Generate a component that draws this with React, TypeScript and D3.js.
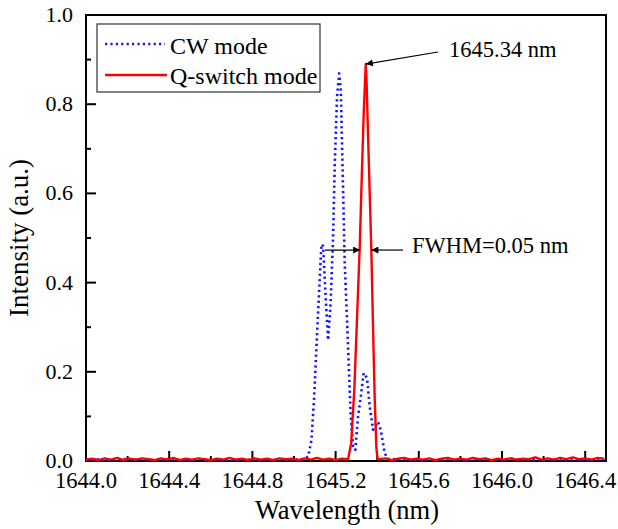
import React from "react";
import * as d3 from "d3";

const W = 618;
const H = 529;
const M = { left: 86, right: 606, top: 15, bottom: 461 };

const xDomain: [number, number] = [1644.0, 1646.5];
const yDomain: [number, number] = [0, 1];
const xMajorTicks = [1644.0, 1644.4, 1644.8, 1645.2, 1645.6, 1646.0, 1646.4];
const xMinorTicks = [1644.2, 1644.6, 1645.0, 1645.4, 1645.8, 1646.2];
const yMajorTicks = [0.0, 0.2, 0.4, 0.6, 0.8, 1.0];
const yMinorTicks = [0.1, 0.3, 0.5, 0.7, 0.9];

// CW mode (blue dotted)
const cwWavelength = [
  1644.0, 1644.05, 1644.1, 1644.15, 1644.2, 1644.25, 1644.3, 1644.35, 1644.4, 1644.45, 1644.5, 1644.55, 1644.6,
  1644.65, 1644.7, 1644.75, 1644.8, 1644.85, 1644.9, 1644.95, 1645.0, 1645.05,
  1645.068, 1645.084, 1645.097, 1645.108, 1645.121, 1645.132, 1645.14, 1645.152, 1645.164, 1645.176, 1645.188,
  1645.196, 1645.207, 1645.217, 1645.225, 1645.233, 1645.244, 1645.26, 1645.272, 1645.284, 1645.295, 1645.308,
  1645.321, 1645.335, 1645.351, 1645.364, 1645.38, 1645.404, 1645.417, 1645.436, 1645.45,
  1645.5, 1645.55, 1645.6, 1645.65, 1645.7, 1645.75, 1645.8, 1645.85, 1645.9, 1645.95, 1646.0, 1646.05, 1646.1,
  1646.15, 1646.2, 1646.25, 1646.3, 1646.35, 1646.4, 1646.45, 1646.5,
];
const cwIntensity = [
  0.002, 0.004, 0.001, 0.003, 0.005, 0.002, 0.003, 0.001, 0.004, 0.002, 0.002, 0.004, 0.001,
  0.003, 0.002, 0.004, 0.002, 0.001, 0.003, 0.002, 0.003, 0.004,
  0.01, 0.047, 0.144, 0.256, 0.383, 0.486, 0.482, 0.368, 0.271, 0.354, 0.503,
  0.668, 0.817, 0.869, 0.832, 0.668, 0.443, 0.256, 0.107, 0.032, 0.025, 0.1,
  0.144, 0.197, 0.186, 0.122, 0.07, 0.088, 0.07, 0.018, 0.005,
  0.003, 0.004, 0.002, 0.003, 0.001, 0.004, 0.002, 0.002, 0.004, 0.001, 0.003, 0.005, 0.002,
  0.003, 0.002, 0.004, 0.002, 0.004, 0.001, 0.003, 0.002,
];

// Q-switch mode (red solid)
const qsWavelength = [
  1644.0, 1644.03, 1644.06, 1644.09, 1644.12, 1644.15, 1644.18, 1644.21, 1644.24, 1644.27, 1644.3, 1644.33,
  1644.36, 1644.39, 1644.42, 1644.45, 1644.48, 1644.51, 1644.54, 1644.57, 1644.6, 1644.63, 1644.66, 1644.69,
  1644.72, 1644.75, 1644.78, 1644.81, 1644.84, 1644.87, 1644.9, 1644.93, 1644.96, 1644.99, 1645.02, 1645.05,
  1645.08, 1645.11, 1645.14, 1645.17, 1645.2, 1645.23,
  1645.26, 1645.275, 1645.29, 1645.303, 1645.316, 1645.326, 1645.336, 1645.345, 1645.349, 1645.356, 1645.364,
  1645.372, 1645.38, 1645.388, 1645.396, 1645.402,
  1645.41, 1645.44, 1645.47, 1645.5, 1645.53, 1645.56, 1645.59, 1645.62, 1645.65, 1645.68, 1645.71, 1645.74,
  1645.77, 1645.8, 1645.83, 1645.86, 1645.89, 1645.92, 1645.95, 1645.98, 1646.01, 1646.04, 1646.07, 1646.1,
  1646.13, 1646.16, 1646.19, 1646.22, 1646.25, 1646.28, 1646.31, 1646.34, 1646.37, 1646.4, 1646.43, 1646.46,
  1646.49,
];
const qsIntensity = [
  0.003, 0.005, 0.002, 0.006, 0.003, 0.007, 0.002, 0.005, 0.003, 0.006, 0.004, 0.002,
  0.006, 0.003, 0.007, 0.002, 0.005, 0.003, 0.006, 0.004, 0.002, 0.005, 0.003, 0.007,
  0.003, 0.005, 0.002, 0.006, 0.003, 0.005, 0.002, 0.006, 0.004, 0.005, 0.002, 0.006,
  0.003, 0.007, 0.003, 0.005, 0.002, 0.005,
  0.004, 0.04, 0.16, 0.32, 0.48, 0.64, 0.79, 0.89, 0.85, 0.73, 0.6,
  0.47, 0.3, 0.14, 0.03, 0.004,
  0.004, 0.006, 0.002, 0.005, 0.007, 0.003, 0.005, 0.003, 0.006, 0.002, 0.005, 0.007,
  0.003, 0.005, 0.003, 0.007, 0.004, 0.006, 0.002, 0.005, 0.003, 0.006, 0.003, 0.005,
  0.004, 0.008, 0.003, 0.006, 0.003, 0.007, 0.004, 0.008, 0.004, 0.006, 0.003, 0.007,
  0.005,
];

const peakWavelength = 1645.345;
const peakIntensity = 0.89;
const fwhmLeft = 1645.318;
const fwhmRight = 1645.372;
const fwhmLevel = 0.473;

const serif = "Liberation Serif";

export default function App() {
  const x = d3.scaleLinear().domain(xDomain).range([M.left, M.right]);
  const y = d3.scaleLinear().domain(yDomain).range([M.bottom, M.top]);

  const cwData = cwWavelength.map((w, i) => [w, cwIntensity[i]] as [number, number]);
  const qsData = qsWavelength.map((w, i) => [w, qsIntensity[i]] as [number, number]);

  const line = d3
    .line<[number, number]>()
    .x((d) => x(d[0]))
    .y((d) => y(d[1]));

  const px = x(peakWavelength);
  const py = y(peakIntensity);
  const fy = y(fwhmLevel);

  return (
    <svg width={W} height={H} style={{ display: "block", position: "absolute", left: 0, top: 0, background: "#fff" }}>
      <defs>
        <clipPath id="plotClip">
          <rect x={M.left} y={M.top - 2} width={M.right - M.left} height={M.bottom - M.top + 3} />
        </clipPath>
        <marker id="arrowHead" viewBox="0 0 10 10" refX="10" refY="5" markerWidth="11" markerHeight="7" markerUnits="userSpaceOnUse" orient="auto">
          <path d="M0,0 L10,5 L0,10 Z" fill="#000" />
        </marker>
      </defs>
      <rect x={0} y={0} width={W} height={H} fill="#fff" />

      {/* frame */}
      <rect
        x={M.left}
        y={M.top}
        width={M.right - M.left}
        height={M.bottom - M.top}
        fill="none"
        stroke="#000"
        strokeWidth={2}
      />

      {/* x ticks */}
      {xMajorTicks.map((t) => (
        <g key={"xM" + t}>
          <line x1={x(t)} x2={x(t)} y1={M.bottom} y2={M.bottom - 10} stroke="#000" strokeWidth={2} />
          <text x={x(t)} y={488} textAnchor="middle" fontFamily={serif} fontSize={22.5} fill="#000">
            {t.toFixed(1)}
          </text>
        </g>
      ))}
      {xMinorTicks.map((t) => (
        <line key={"xm" + t} x1={x(t)} x2={x(t)} y1={M.bottom} y2={M.bottom - 5} stroke="#000" strokeWidth={2} />
      ))}

      {/* y ticks */}
      {yMajorTicks.map((t) => (
        <g key={"yM" + t}>
          <line x1={M.left} x2={M.left + 10} y1={y(t)} y2={y(t)} stroke="#000" strokeWidth={2} />
          <text x={73} y={y(t) + 7} textAnchor="end" fontFamily={serif} fontSize={22} fill="#000">
            {t.toFixed(1)}
          </text>
        </g>
      ))}
      {yMinorTicks.map((t) => (
        <line key={"ym" + t} x1={M.left} x2={M.left + 5} y1={y(t)} y2={y(t)} stroke="#000" strokeWidth={2} />
      ))}

      {/* axis titles */}
      <text x={347} y={519} textAnchor="middle" fontFamily={serif} fontSize={26.5} fill="#000">
        Wavelength (nm)
      </text>
      <text transform="translate(28, 238) rotate(-90)" textAnchor="middle" fontFamily={serif} fontSize={27} fill="#000">
        Intensity (a.u.)
      </text>

      {/* data */}
      <g clipPath="url(#plotClip)">
        <path
          d={line(cwData) || ""}
          fill="none"
          stroke="#1515ff"
          strokeWidth={2.6}
          strokeDasharray="2.2 3.2"
          strokeLinejoin="round"
        />
        <path d={line(qsData) || ""} fill="none" stroke="#ff0000" strokeWidth={2.4} strokeLinejoin="round" />
      </g>

      {/* legend */}
      <rect x={97} y={24} width={223} height={68} fill="#fff" stroke="#333" strokeWidth={1.2} />
      <line x1={105} x2={165} y1={44} y2={44} stroke="#1515ff" strokeWidth={2.6} strokeDasharray="2.2 3.2" />
      <text x={170} y={54} fontFamily={serif} fontSize={24} fill="#000">
        CW mode
      </text>
      <line x1={105} x2={167} y1={75} y2={75} stroke="#ff0000" strokeWidth={2.6} />
      <text x={170} y={84} fontFamily={serif} fontSize={24} fill="#000">
        Q-switch mode
      </text>

      {/* peak annotation */}
      <line x1={438} y1={52} x2={px} y2={py} stroke="#000" strokeWidth={1.2} markerEnd="url(#arrowHead)" />
      <text x={449} y={57} fontFamily={serif} fontSize={22.5} fill="#000">
        1645.34 nm
      </text>

      {/* FWHM annotation */}
      <line x1={325} y1={fy} x2={x(fwhmLeft)} y2={fy} stroke="#000" strokeWidth={1.2} markerEnd="url(#arrowHead)" />
      <line x1={403} y1={fy} x2={x(fwhmRight)} y2={fy} stroke="#000" strokeWidth={1.2} markerEnd="url(#arrowHead)" />
      <text x={412} y={253} fontFamily={serif} fontSize={22.5} fill="#000">
        FWHM=0.05 nm
      </text>
    </svg>
  );
}
